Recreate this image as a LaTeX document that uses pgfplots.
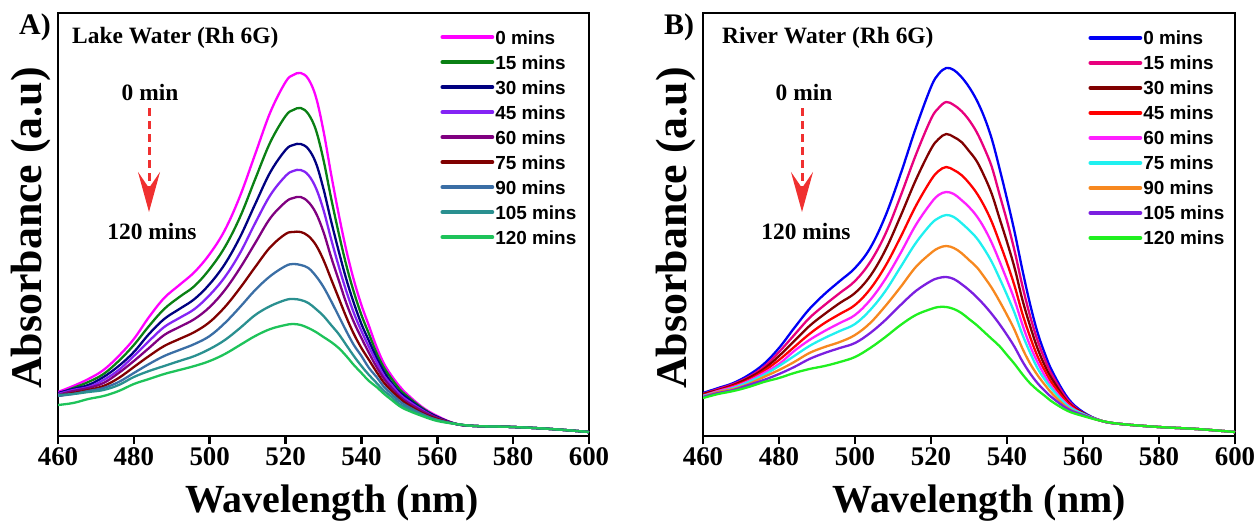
\documentclass[border=0pt]{standalone}
\usepackage{fontspec}
\setmainfont{Liberation Serif}
\newfontfamily\arialfont{Liberation Sans}
\usepackage{pgfplots}
\usepackage{pgfplotstable}
\pgfplotsset{compat=1.18}
\usetikzlibrary{arrows.meta}

% Lake water series
\definecolor{lA}{RGB}{255,0,255}
\definecolor{lB}{RGB}{10,128,20}
\definecolor{lC}{RGB}{0,0,128}
\definecolor{lD}{RGB}{132,36,245}
\definecolor{lE}{RGB}{128,0,128}
\definecolor{lF}{RGB}{128,0,0}
\definecolor{lG}{RGB}{58,110,165}
\definecolor{lH}{RGB}{42,144,144}
\definecolor{lI}{RGB}{30,195,90}
% River water series
\definecolor{rA}{RGB}{0,0,245}
\definecolor{rB}{RGB}{232,0,126}
\definecolor{rC}{RGB}{128,0,0}
\definecolor{rD}{RGB}{255,0,0}
\definecolor{rE}{RGB}{255,32,255}
\definecolor{rF}{RGB}{32,240,240}
\definecolor{rG}{RGB}{247,136,31}
\definecolor{rH}{RGB}{123,31,224}
\definecolor{rI}{RGB}{32,240,32}
\definecolor{arrowred}{RGB}{240,48,48}

% wavelength (nm) vs absorbance (a.u.), one column per irradiation time (min)
\pgfplotstableread{
wl  t0  t15 t30 t45 t60 t75 t90 t105 t120
460 44  42  43  42  41  40  40  41  31
464 50  48  47  46  45  43  42  42  33
468 57  54  51  49  48  46  45  44  37
472 66  62  59  56  53  50  48  46  40
476 80  75  70  66  63  58  54  51  45
480 97  91  84  80  75  69  63  59  52
484 119 110 102 95  88  80  72  65  57
488 138 127 117 109 101 90  80  70  62
492 151 139 127 118 109 97  86  75  66
496 164 150 137 127 117 104 92  80  70
500 182 167 152 141 129 114 100 87  75
504 206 189 172 159 146 129 113 96  82
508 240 219 199 183 168 148 129 108 91
512 282 257 232 213 193 169 146 121 100
516 324 294 264 241 218 189 160 130 107
520 354 320 286 260 234 202 170 136 111
522 361 326 291 265 238 204 172 137 112
524 363 328 292 266 239 204 171 136 111
526 357 322 287 261 234 200 168 133 108
528 339 306 273 248 223 191 160 127 104
530 305 276 247 226 204 176 149 120 99
532 262 238 215 197 179 157 135 111 94
534 222 203 185 170 156 138 120 102 88
536 186 171 157 145 133 119 105 91  80
538 156 144 133 123 114 102 91  80  71
540 131 121 112 105 98  88  80  70  63
542 110 102 95  89  83  76  68  61  55
544 89  83  78  74  69  64  59  53  49
546 72  68  64  60  57  53  49  45  42
548 60  57  53  51  48  45  42  39  36
550 50  47  44  42  40  38  35  32  30
552 42  40  38  36  34  32  30  28  26
556 29  28  27  26  25  23  22  21  20
560 20  19  19  18  18  17  16  16  15
565 12  12  12  12  12  12  12  12  12
570 10  10  10  10  10  10  10  10  10
580 9   9   9   9   9   9   9   9   9
590 7   7   7   7   7   7   7   7   7
600 4   4   4   4   4   4   4   4   4
}\lake

\pgfplotstableread{
wl  t0  t15 t30 t45 t60 t75 t90 t105 t120
460 43  42  42  41  40  40  39  39  38
464 48  47  46  45  45  44  44  43  42
468 53  52  51  50  49  48  47  46  45
472 61  59  58  56  55  54  52  51  49
476 72  69  67  65  63  61  59  56  54
480 88  84  80  76  72  70  66  62  58
484 108 101 95  89  85  80  74  69  63
488 127 118 110 102 96  90  83  77  67
492 142 131 122 113 105 98  89  83  70
496 155 143 133 122 113 105 94  88  74
500 168 155 143 131 121 112 101 93  79
504 188 174 160 147 136 126 113 103 88
508 220 202 186 170 157 145 130 116 99
512 262 240 220 199 183 169 149 131 111
516 308 281 256 230 211 193 169 145 121
520 349 317 287 256 233 212 183 155 127
522 362 328 297 265 241 218 188 158 129
524 368 334 302 269 244 221 190 159 129
526 366 331 299 266 242 219 188 157 127
528 359 325 294 261 236 213 183 152 123
530 349 316 285 253 229 206 176 146 117
532 336 304 275 243 220 198 169 139 111
534 319 288 260 230 208 187 159 131 104
536 297 269 242 214 193 174 148 122 97
538 268 242 218 194 175 158 135 112 90
540 237 215 194 173 156 141 121 101 81
542 204 185 168 150 136 123 106 89  72
544 167 151 137 123 112 102 88  75  62
546 133 121 111 100 91  84  73  63  53
548 104 96  88  80  74  68  61  53  46
550 82  76  70  65  60  56  51  45  40
552 64  60  56  52  48  46  42  38  34
556 38  36  34  33  31  30  28  27  25
560 24  23  23  22  22  22  21  21  20
565 15  15  15  15  15  15  15  15  15
570 12  12  12  12  12  12  12  12  12
580 9   9   9   9   9   9   9   9   9
590 7   7   7   7   7   7   7   7   7
600 4   4   4   4   4   4   4   4   4
}\river

\pgfplotsset{
  spectra/.style={
    scale only axis, height=423bp,
    xmin=460, xmax=600, ymin=0, ymax=423,
    xtick={460,480,...,600}, ytick=\empty,
    xtick pos=bottom, xtick align=outside,
    major tick length=8bp,
    tick style={line width=2.5bp, black},
    axis line style={line width=2.5bp},
    tick label style={font=\bfseries\fontsize{27}{27}\selectfont},
    /pgf/number format/assume math mode=true,
    legend cell align=left,
    legend style={draw=none, fill=none, inner sep=0pt, outer sep=0pt,
      anchor=north west, row sep=9bp,
      font=\arialfont\bfseries\fontsize{19}{19}\selectfont,
      nodes={inner sep=1bp, text height=14bp, text depth=0bp}},
    legend image code/.code={\draw[##1, line width=3.8bp, line cap=round] (0bp,0bp) -- (50bp,0bp);},
  },
  spec/.style={smooth, tension=0.6, line width=2.3bp},
}

\begin{document}
\begin{tikzpicture}
\useasboundingbox (0,0) rectangle (1257bp,-525bp);

\begin{axis}[spectra, width=531bp, at={(58bp,-436bp)}, anchor=south west,
  legend style={at={(0.7203,0.962)}}]
  \addplot[lA, spec] table[x=wl, y=t0]   {\lake}; \addlegendentry{0 mins}
  \addplot[lB, spec] table[x=wl, y=t15]  {\lake}; \addlegendentry{15 mins}
  \addplot[lC, spec] table[x=wl, y=t30]  {\lake}; \addlegendentry{30 mins}
  \addplot[lD, spec] table[x=wl, y=t45]  {\lake}; \addlegendentry{45 mins}
  \addplot[lE, spec] table[x=wl, y=t60]  {\lake}; \addlegendentry{60 mins}
  \addplot[lF, spec] table[x=wl, y=t75]  {\lake}; \addlegendentry{75 mins}
  \addplot[lG, spec] table[x=wl, y=t90]  {\lake}; \addlegendentry{90 mins}
  \addplot[lH, spec] table[x=wl, y=t105] {\lake}; \addlegendentry{105 mins}
  \addplot[lI, spec] table[x=wl, y=t120] {\lake}; \addlegendentry{120 mins}
\end{axis}

\begin{axis}[spectra, width=532bp, at={(703bp,-436bp)}, anchor=south west,
  legend style={at={(0.7246,0.960)}}]
  \addplot[rA, spec] table[x=wl, y=t0]   {\river}; \addlegendentry{0 mins}
  \addplot[rB, spec] table[x=wl, y=t15]  {\river}; \addlegendentry{15 mins}
  \addplot[rC, spec] table[x=wl, y=t30]  {\river}; \addlegendentry{30 mins}
  \addplot[rD, spec] table[x=wl, y=t45]  {\river}; \addlegendentry{45 mins}
  \addplot[rE, spec] table[x=wl, y=t60]  {\river}; \addlegendentry{60 mins}
  \addplot[rF, spec] table[x=wl, y=t75]  {\river}; \addlegendentry{75 mins}
  \addplot[rG, spec] table[x=wl, y=t90]  {\river}; \addlegendentry{90 mins}
  \addplot[rH, spec] table[x=wl, y=t105] {\river}; \addlegendentry{105 mins}
  \addplot[rI, spec] table[x=wl, y=t120] {\river}; \addlegendentry{120 mins}
\end{axis}

% panel letters, titles and axis labels
\node[font=\bfseries\fontsize{30}{30}\selectfont] at (35bp,-27bp) {A)};
\node[font=\bfseries\fontsize{30}{30}\selectfont] at (679bp,-27bp) {B)};
\node[font=\bfseries\fontsize{23.5}{23.5}\selectfont, anchor=base west, inner sep=0pt] at (72bp,-43bp) {Lake Water (Rh 6G)};
\node[font=\bfseries\fontsize{23.5}{23.5}\selectfont, anchor=base west, inner sep=0pt] at (722bp,-43bp) {River Water (Rh 6G)};
\node[rotate=90, font=\bfseries\fontsize{44}{44}\selectfont] at (31bp,-228bp) {Absorbance (a.u)};
\node[rotate=90, font=\bfseries\fontsize{44}{44}\selectfont] at (676bp,-228bp) {Absorbance (a.u)};
\node[font=\bfseries\fontsize{40}{40}\selectfont, anchor=base] at (332bp,-512bp) {Wavelength (nm)};
\node[font=\bfseries\fontsize{40}{40}\selectfont, anchor=base] at (979bp,-512bp) {Wavelength (nm)};

% time arrows
\foreach \ax/\lx in {149/150, 802/804} {
  \node[font=\bfseries\fontsize{23.5}{23.5}\selectfont, anchor=base, inner sep=0pt] at (\lx bp,-100bp) {0 min};
  \node[font=\bfseries\fontsize{23.5}{23.5}\selectfont, anchor=base, inner sep=0pt] at (\lx bp+2bp,-239bp) {120 mins};
  \draw[arrowred, line width=3bp, dash pattern=on 8bp off 5bp,
    -{Stealth[length=40bp, width=22bp, inset=16bp]}] (\ax bp,-108bp) -- (\ax bp,-212bp);
}
\end{tikzpicture}
\end{document}
